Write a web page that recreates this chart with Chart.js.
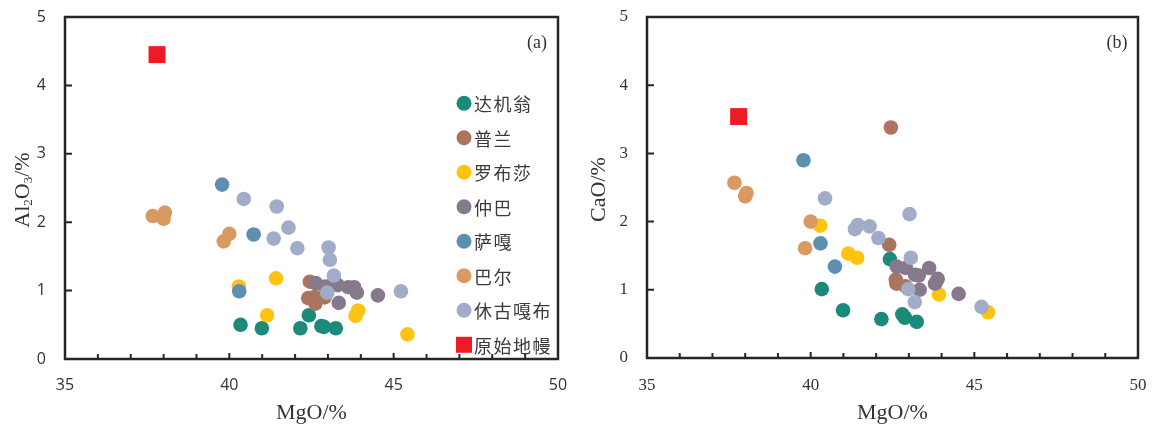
<!DOCTYPE html>
<html>
<head>
<meta charset="utf-8">
<script src="https://cdn.jsdelivr.net/npm/chart.js@4.4.1/dist/chart.umd.min.js"></script>
<style>
  body { margin: 0; background: #fff; }
  .box { position: absolute; top: 0; width: 576px; height: 427px; }
</style>
</head>
<body>
<div class="box" style="left:0"><canvas id="chartA" width="576" height="427"></canvas></div>
<div class="box" style="left:576px"><canvas id="chartB" width="576" height="427"></canvas></div>
<script>
// groups (legend order) and colours
const groups = ['达机翁', '普兰', '罗布莎', '仲巴', '萨嘎', '巴尔', '休古嘎布', '原始地幔'];
const colors = ['#1c8a7b', '#aa745f', '#ffc412', '#87798c', '#5f8fb0', '#d89a60', '#a0acc8', '#ed1c24'];

// MgO (%) per group, shared by both panels
const mgo = [
  [40.34, 40.99, 42.16, 42.42, 42.80, 42.88, 43.24],
  [42.45, 42.40, 42.62, 42.60, 42.90],
  [40.29, 41.42, 41.15, 43.92, 43.84, 45.42],
  [42.63, 42.91, 43.19, 43.30, 43.33, 43.62, 43.80, 43.88, 44.52],
  [39.78, 40.30, 40.74],
  [37.67, 38.04, 38.00, 40.00, 39.83],
  [40.44, 41.44, 41.80, 41.35, 42.07, 43.02, 43.06, 43.18, 42.98, 45.22],
  [37.80]
];
// Al2O3 (%) — panel (a)
const al2o3 = [
  [0.50, 0.45, 0.45, 0.64, 0.48, 0.47, 0.45],
  [1.13, 0.89, 0.81, 0.91, 0.90],
  [1.06, 1.18, 0.64, 0.71, 0.63, 0.36],
  [1.11, 1.06, 1.13, 1.08, 0.82, 1.05, 1.05, 0.97, 0.93],
  [2.55, 0.99, 1.82],
  [2.09, 2.14, 2.05, 1.83, 1.72],
  [2.34, 2.23, 1.92, 1.76, 1.62, 1.63, 1.45, 1.22, 0.97, 0.99],
  [4.45]
];
// CaO (%) — panel (b)
const cao = [
  [1.01, 0.70, 0.57, 1.45, 0.64, 0.59, 0.53],
  [3.38, 1.66, 1.09, 1.15, 1.05],
  [1.94, 1.47, 1.53, 0.93, 1.12, 0.67],
  [1.34, 1.32, 1.22, 1.21, 1.00, 1.32, 1.09, 1.16, 0.94],
  [2.90, 1.68, 1.34],
  [2.57, 2.42, 2.37, 2.00, 1.61],
  [2.34, 1.95, 1.93, 1.89, 1.76, 2.11, 1.47, 0.82, 1.01, 0.75],
  [3.54]
];

const xTicksMinor = [36, 37, 38, 39, 40, 41, 42, 43, 44, 45, 46, 47, 48, 49];
const yTicksInner = [1, 2, 3, 4];

function makeDatasets(yVals) {
  return groups.map((g, i) => ({
    label: g,
    data: mgo[i].map((m, k) => ({ x: m, y: yVals[i][k] })),
    backgroundColor: colors[i],
    borderWidth: 0,
    pointStyle: i === 7 ? 'rect' : 'circle',
    pointRadius: i === 7 ? 12 : 7.3,
    pointHoverRadius: i === 7 ? 12 : 7.3,
    order: groups.length - i   // later groups drawn on top
  }));
}

// frame, inward ticks, panel tag, y title and in-plot legend
const panelDecor = {
  id: 'panelDecor',
  afterDraw(chart, args, opts) {
    const { ctx, chartArea: a, scales: { x, y } } = chart;
    ctx.save();
    ctx.strokeStyle = '#262626';
    ctx.lineWidth = 2;
    ctx.beginPath();
    xTicksMinor.forEach(v => {
      const px = x.getPixelForValue(v);
      ctx.moveTo(px, a.bottom);
      ctx.lineTo(px, a.bottom - (v % 5 === 0 ? 6 : 5));
    });
    yTicksInner.forEach(v => {
      const py = y.getPixelForValue(v);
      ctx.moveTo(a.left, py);
      ctx.lineTo(a.left + 7, py);
    });
    ctx.stroke();
    ctx.lineWidth = 2.5;
    ctx.strokeRect(a.left, a.top, a.right - a.left, a.bottom - a.top);

    ctx.fillStyle = '#333';
    ctx.font = '18px "Liberation Serif"';
    ctx.textAlign = 'center';
    ctx.textBaseline = 'middle';
    ctx.fillText(opts.tag, a.right - 21, a.top + 26);

    // rotated y title with subscripts
    const big = 22, small = 13;
    ctx.save();
    ctx.translate(22, (a.top + a.bottom) / 2 + 2);
    ctx.rotate(-Math.PI / 2);
    ctx.textAlign = 'left';
    ctx.textBaseline = 'alphabetic';
    let w = 0;
    opts.yTitle.forEach(([t, sub]) => {
      ctx.font = (sub ? small : big) + 'px "Liberation Serif"';
      w += ctx.measureText(t).width;
    });
    let cx = -w / 2;
    opts.yTitle.forEach(([t, sub]) => {
      ctx.font = (sub ? small : big) + 'px "Liberation Serif"';
      ctx.fillText(t, cx, sub ? 10 : 7);
      cx += ctx.measureText(t).width;
    });
    ctx.restore();

    if (opts.legend) {
      ctx.font = '18px "Noto Sans CJK SC"';
      if ('letterSpacing' in ctx) ctx.letterSpacing = '1.5px';
      ctx.textAlign = 'left';
      ctx.textBaseline = 'middle';
      chart.data.datasets.forEach((ds, i) => {
        const cy = a.top + 86.3 + i * 34.5;
        const mx = a.right - 94;
        ctx.fillStyle = ds.backgroundColor;
        if (ds.pointStyle === 'rect') {
          ctx.fillRect(mx - 8, cy - 8, 16, 16);
        } else {
          ctx.beginPath();
          ctx.arc(mx, cy, 7.5, 0, Math.PI * 2);
          ctx.fill();
        }
        ctx.fillStyle = '#3a3a3a';
        ctx.fillText(ds.label, mx + 10, cy + 1);
      });
    }
    ctx.restore();
  }
};

function makeChart(id, yVals, cfg) {
  return new Chart(document.getElementById(id), {
    type: 'scatter',
    data: { datasets: makeDatasets(yVals) },
    plugins: [panelDecor],
    options: {
      responsive: false,
      animation: false,
      events: [],
      layout: { autoPadding: false, padding: { top: 17, right: cfg.padRight, left: 0, bottom: 0 } },
      plugins: {
        legend: { display: false },
        tooltip: { enabled: false },
        panelDecor: { tag: cfg.tag, yTitle: cfg.yTitle, legend: cfg.legend }
      },
      scales: {
        x: {
          type: 'linear', min: 35, max: 50,
          ticks: { stepSize: 5, padding: cfg.xPad, color: '#333', font: cfg.tickFont },
          grid: { display: false },
          border: { display: false },
          title: {
            display: true, text: 'MgO/%', color: '#333',
            font: { family: 'Liberation Serif', size: 22, lineHeight: 1.1 },
            padding: { top: 0, bottom: 2 }
          },
          afterFit: s => {
            s.height = cfg.xHeight;
            s.paddingLeft = 0; s.paddingRight = 0;
          }
        },
        y: {
          type: 'linear', min: 0, max: 5,
          ticks: { stepSize: 1, padding: cfg.yPad, color: '#333', font: cfg.tickFont },
          grid: { display: false },
          border: { display: false },
          afterFit: s => {
            s.width = cfg.yWidth;
            s.paddingTop = 0; s.paddingBottom = 0;
          }
        }
      }
    }
  });
}

makeChart('chartA', al2o3, {
  tag: '(a)', legend: true, padRight: 18, yWidth: 65, xHeight: 68,
  xPad: 9, yPad: 11,
  tickFont: { family: 'Open Sans', size: 16 },
  yTitle: [['Al', 0], ['2', 1], ['O', 0], ['3', 1], ['/%', 0]]
});
makeChart('chartB', cao, {
  tag: '(b)', legend: false, padRight: 14, yWidth: 71, xHeight: 69,
  xPad: 9, yPad: 11,
  tickFont: { family: 'Liberation Serif', size: 17 },
  yTitle: [['CaO/%', 0]]
});
</script>
</body>
</html>
